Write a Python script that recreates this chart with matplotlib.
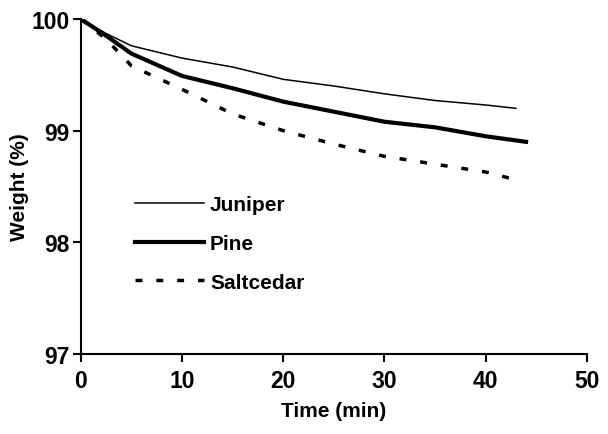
import numpy as np
import matplotlib.pyplot as plt

plt.rcParams['font.family'] = ['Liberation Sans', 'DejaVu Sans']
plt.rcParams['font.weight'] = 'bold'

# time (min) and weight (%)
t = [0, 2.5, 5, 10, 15, 20, 25, 30, 35, 40, 43]
juniper = [100, 99.87, 99.76, 99.65, 99.57, 99.46, 99.40, 99.33, 99.27, 99.23, 99.20]
t_pine = [0, 2.5, 5, 10, 15, 20, 25, 30, 35, 40, 44]
pine = [100, 99.85, 99.69, 99.49, 99.38, 99.26, 99.17, 99.08, 99.03, 98.95, 98.90]
saltcedar = [100, 99.82, 99.58, 99.37, 99.15, 99.00, 98.88, 98.77, 98.70, 98.63, 98.56]

fig = plt.figure(figsize=(6.08, 4.35), dpi=100)
ax = fig.add_axes([0.133, 0.184, 0.832, 0.770])

ax.plot(t, juniper, color='black', lw=1.1, label='Juniper')
ax.plot(t_pine, pine, color='black', lw=3, label='Pine')
ax.plot(t, saltcedar, color='black', lw=2.5, dashes=(2, 4), label='Saltcedar')

ax.set_xlim(0, 50)
ax.set_ylim(97, 100)
ax.set_xticks([0, 10, 20, 30, 40, 50])
ax.set_yticks([97, 98, 99, 100])
ax.spines['top'].set_visible(False)
ax.spines['right'].set_visible(False)
ax.spines['left'].set_linewidth(1.5)
ax.spines['bottom'].set_linewidth(1.5)
ax.tick_params(direction='out', length=6, width=1.5, labelsize=16.5)
ax.tick_params(axis='y', pad=2)
ax.tick_params(axis='x', pad=5)
for lb in ax.get_xticklabels() + ax.get_yticklabels():
    lb.set_fontweight('bold')

ax.set_xlabel('Time (min)', fontsize=15, fontweight='bold', labelpad=6)
ax.set_ylabel('Weight (%)', fontsize=15, fontweight='bold', labelpad=2)

ax.legend(loc='upper left', bbox_to_anchor=(0.07, 0.53), frameon=False,
          handlelength=3.3, handletextpad=0.3, labelspacing=0.95,
          prop={'weight': 'bold', 'size': 15})

fig.savefig('out.png', dpi=100)
